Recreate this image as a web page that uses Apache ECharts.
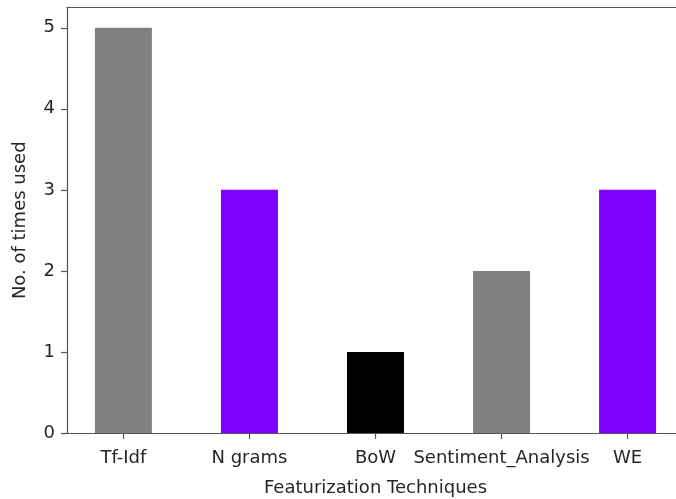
<!DOCTYPE html>
<html>
<head>
<meta charset="utf-8">
<script src="https://cdn.jsdelivr.net/npm/echarts@6/dist/echarts.min.js"></script>
<style>
  html, body { margin: 0; padding: 0; background: #fff; }
  #main { width: 676px; height: 499px; }
</style>
</head>
<body>
<div id="main"></div>
<script>
var categories = ["Tf-Idf", "N grams", "BoW", "Sentiment_Analysis", "WE"];
var counts = [5, 3, 1, 2, 3];
var barColors = ["#808080", "#7f00ff", "#000000", "#808080", "#7f00ff"];
var yTicks = [0, 1, 2, 3, 4, 5];

var chartDom = document.getElementById("main");
var myChart = echarts.init(chartDom);
var option;

var textStyle = {
  fontFamily: "DejaVu Sans",
  fontSize: 18,
  color: "#262626",
};
var spine = { color: "#555", width: 1.2 };

option = {
  animation: false,
  grid: {
    left: 67,
    top: 7.5,
    width: 617,
    height: 425.5,
    outerBoundsMode: "none",
    containLabel: false,
  },
  xAxis: [
    {
      type: "value",
      min: -0.4475,
      max: 4.4475,
      name: "Featurization Techniques",
      nameLocation: "middle",
      nameGap: 46,
      nameTextStyle: textStyle,
      splitLine: { show: false },
      axisLine: { show: true, onZero: false, lineStyle: spine },
      axisTick: {
        show: true,
        length: 6,
        customValues: [0, 1, 2, 3, 4],
        lineStyle: spine,
      },
      axisLabel: Object.assign({}, textStyle, {
        margin: 16,
        customValues: [0, 1, 2, 3, 4],
        formatter: function (value) {
          return categories[Math.round(value)];
        },
      }),
    },
    {
      // top spine only
      type: "value",
      position: "top",
      min: -0.4475,
      max: 4.4475,
      splitLine: { show: false },
      axisLine: { show: true, onZero: false, lineStyle: spine },
      axisTick: { show: false },
      axisLabel: { show: false },
    },
  ],
  yAxis: {
    type: "value",
    min: 0,
    max: 5.25,
    name: "No. of times used",
    nameLocation: "middle",
    nameGap: 38,
    nameTextStyle: textStyle,
    splitLine: { show: false },
    axisLine: { show: true, onZero: false, lineStyle: spine },
    axisTick: {
      show: true,
      length: 6,
      customValues: yTicks,
      lineStyle: spine,
    },
    axisLabel: Object.assign({}, textStyle, {
      margin: 12,
      customValues: yTicks,
    }),
  },
  series: [
    {
      type: "bar",
      barWidth: 57,
      data: counts.map(function (v, i) {
        return { value: [i, v], itemStyle: { color: barColors[i] } };
      }),
    },
  ],
};

option && myChart.setOption(option);
</script>
</body>
</html>
